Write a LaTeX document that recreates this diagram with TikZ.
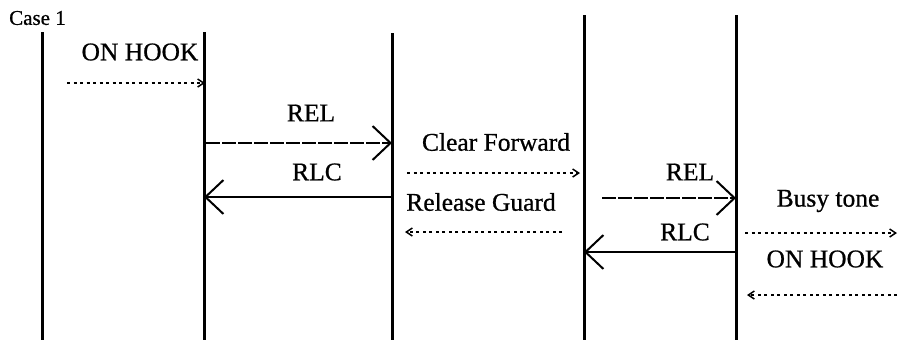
\documentclass[tikz,border=0pt]{standalone}
\usepackage{fontspec}
\setmainfont{Liberation Serif}[FakeBold=0.7]
\usetikzlibrary{arrows.meta}
\begin{document}
\begin{tikzpicture}[x=1pt,y=-1pt,
  lifeline/.style={line width=3pt},
  lbl/.style={font=\fontsize{25.5}{28}\selectfont, inner sep=0pt},
  msgbig/.style={line width=1.3pt, -{Straight Barb[length=18pt,width=34pt,line width=2pt]}},
  msgdash/.style={msgbig, dash pattern=on 14pt off 2pt},
  msgdot/.style={line width=2pt, dash pattern=on 3pt off 3.5pt, -{Straight Barb[length=6pt,width=8pt,line width=1.5pt]}}]
\useasboundingbox (0,0) rectangle (898,349);
% lifelines
\coordinate (t1) at (42,32);  \coordinate (b1) at (42,340);
\coordinate (t2) at (204,32); \coordinate (b2) at (204,340);
\coordinate (t3) at (392,33); \coordinate (b3) at (392,340);
\coordinate (t4) at (584,15); \coordinate (b4) at (584,340);
\coordinate (t5) at (736,15); \coordinate (b5) at (736,340);
\draw[lifeline] (t1) -- (b1);
\draw[lifeline] (t2) -- (b2);
\draw[lifeline] (t3) -- (b3);
\draw[lifeline] (t4) -- (b4);
\draw[lifeline] (t5) -- (b5);
% labels
\node[lbl, anchor=west, font=\fontsize{21}{24}\selectfont] (case) at (9,18) {Case 1};
\node[lbl] (onhook1) at (140,52) {ON HOOK};
\node[lbl] (rel1) at (311,113) {REL};
\node[lbl] (rlc1) at (317,172) {RLC};
\node[lbl] (cf) at (496,142) {Clear Forward};
\node[lbl] (rg) at (481,202) {Release Guard};
\node[lbl] (rel2) at (690,172) {REL};
\node[lbl] (rlc2) at (685,232) {RLC};
\node[lbl] (bt) at (828,201) {Busy tone};
\node[lbl] (onhook2) at (825,259) {ON HOOK};
% arrow endpoints
\coordinate (a1s) at (67,83);   \coordinate (a1e) at (205,83);
\coordinate (a2s) at (206,143); \coordinate (a2e) at (392,143);
\coordinate (a3s) at (392,197); \coordinate (a3e) at (204,197);
\coordinate (a4s) at (407,173); \coordinate (a4e) at (580,173);
\coordinate (a5s) at (562,232); \coordinate (a5e) at (405,232);
\coordinate (a6s) at (602,198); \coordinate (a6e) at (736,198);
\coordinate (a7s) at (736,252); \coordinate (a7e) at (584,252);
\coordinate (a8s) at (745,233); \coordinate (a8e) at (897,233);
\coordinate (a9s) at (897,295); \coordinate (a9e) at (747,295);
\draw[msgdot] (a1s) -- (a1e);
\draw[msgdash] (a2s) -- (a2e);
\draw[msgbig] (a3s) -- (a3e);
\draw[msgdot] (a4s) -- (a4e);
\draw[msgdot] (a5s) -- (a5e);
\draw[msgdash] (a6s) -- (a6e);
\draw[msgbig] (a7s) -- (a7e);
\draw[msgdot] (a8s) -- (a8e);
\draw[msgdot] (a9s) -- (a9e);
\end{tikzpicture}
\end{document}
